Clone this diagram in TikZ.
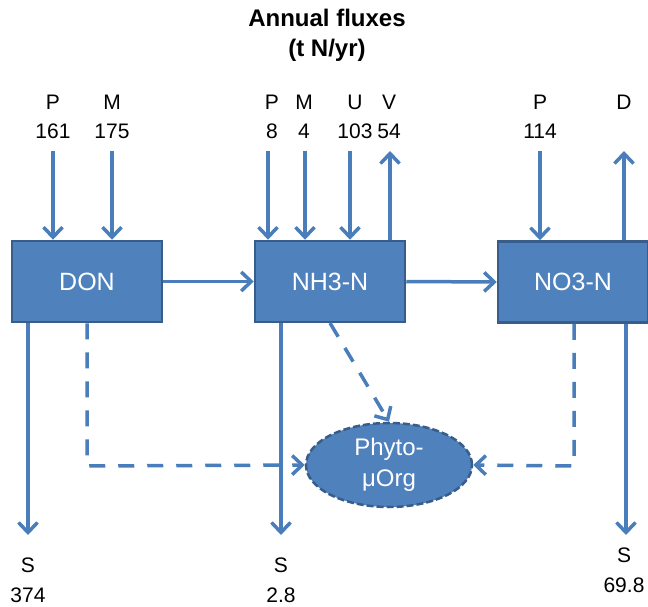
\documentclass[tikz,border=0pt]{standalone}
\usepackage{fontspec}
\setmainfont{Liberation Sans}
\usetikzlibrary{arrows.meta,shapes.geometric}
\definecolor{boxfill}{HTML}{4F81BD}
\definecolor{boxline}{HTML}{385D8A}
\definecolor{arrcol}{HTML}{4A7EBB}
\tikzset{
  pool/.style={draw=boxline, fill=boxfill, line width=2.5pt, minimum width=150pt, minimum height=81pt, inner sep=0pt, text=white, font=\fontsize{25}{30}\selectfont},
  lab/.style={inner sep=0pt, font=\fontsize{21}{24}\selectfont, text=black},
  arr/.style={draw=arrcol, line width=3.5pt, -{Straight Barb[length=10pt,width=19pt,line width=3.5pt]}},
  darr/.style={arr, dash pattern=on 16pt off 13pt},
  blob/.style={ellipse, draw=boxline, fill=boxfill, line width=2.5pt, dash pattern=on 7pt off 3pt, minimum width=166pt, minimum height=84pt, inner sep=0pt, text=white, align=center, font=\fontsize{24}{31}\selectfont}
}
\begin{document}
\begin{tikzpicture}[x=1pt,y=-1pt]
\useasboundingbox (0,0) rectangle (648,607);
\begin{scope}
\clip (0,0) rectangle (648,607);
% title
\node[lab, align=center, font=\bfseries\fontsize{24}{30}\selectfont] (title) at (327,35) {Annual fluxes\\(t N/yr)};

% boxes
\node[pool] (don) at (87,281.5) {DON};
\node[pool] (nh3) at (330,281.5) {NH3-N};
\node[pool] (no3) at (573,282) {NO3-N};
\node[blob] (phy) at (389,465) {Phyto-\\μOrg};

% top labels DON
\node[lab] (p1) at (53,102) {P};
\node[lab] (p1v) at (53,131) {161};
\node[lab] (m1) at (112,102) {M};
\node[lab] (m1v) at (112,131) {175};
% NH3
\node[lab] (p2) at (272,102) {P};
\node[lab] (p2v) at (272,131) {8};
\node[lab] (m2) at (304,102) {M};
\node[lab] (m2v) at (304,131) {4};
\node[lab] (u2) at (355,102) {U};
\node[lab] (u2v) at (355,131) {103};
\node[lab] (v2) at (389,102) {V};
\node[lab] (v2v) at (389,131) {54};
% NO3
\node[lab] (p3) at (540,102) {P};
\node[lab] (p3v) at (540,131) {114};
\node[lab] (d3) at (624,102) {D};

% bottom labels
\node[lab] (s1) at (28,565) {S};
\node[lab] (s1v) at (28,595) {374};
\node[lab] (s2) at (281,565) {S};
\node[lab] (s2v) at (281,595) {2.8};
\node[lab] (s3) at (624,555) {S};
\node[lab] (s3v) at (624,585) {69.8};

% arrow start coordinates
\coordinate (a1) at (53,151);
\coordinate (a2) at (112,151);
\coordinate (a3) at (268,151);
\coordinate (a4) at (305,151);
\coordinate (a5) at (350,151);
\coordinate (a6) at (390,151);
\coordinate (a7) at (540,151);
\coordinate (a8) at (624,151);
\coordinate (b1) at (28,535);
\coordinate (b2) at (281,535);
\coordinate (b3) at (626,535);
\coordinate (c1) at (87,466);
\coordinate (c2) at (574,466);
\coordinate (c3) at (330,323);

% inflows
\draw[arr] (a1) -- (a1 |- don.north);
\draw[arr] (a2) -- (a2 |- don.north);
\draw[arr] (a3) -- (a3 |- nh3.north);
\draw[arr] (a4) -- (a4 |- nh3.north);
\draw[arr] (a5) -- (a5 |- nh3.north);
\draw[arr] (a6 |- nh3.north) -- (a6);
\draw[arr] (a7) -- (a7 |- no3.north);
\draw[arr] (a8 |- no3.north) -- (a8);

% transfers
\draw[arr] (don.east) -- (nh3.west);
\draw[arr] (nh3.east) -- (no3.west);

% sinks
\draw[arr] (b1 |- don.south) -- (b1);
\draw[arr] (b2 |- nh3.south) -- (b2);
\draw[arr] (b3 |- no3.south) -- (b3);

% dashed flows to phyto
\draw[darr] (c1 |- don.south) -- (c1) -- (phy.west);
\draw[darr] (c2 |- no3.south) -- (c2) -- (phy.east);
\draw[darr] (c3) -- (phy.north);
\end{scope}
\end{tikzpicture}
\end{document}
